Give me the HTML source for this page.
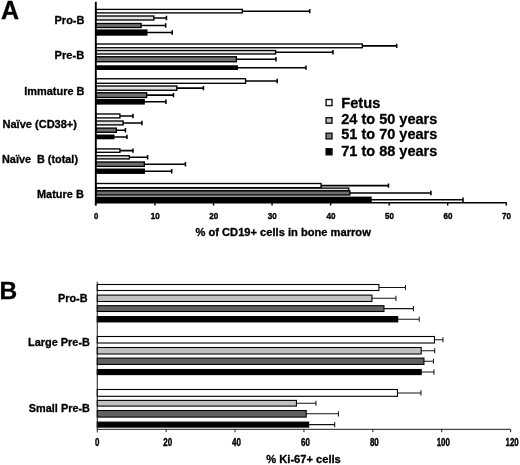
<!DOCTYPE html>
<html lang="en"><head><meta charset="utf-8"><title>Figure</title>
<style>
html,body{margin:0;padding:0;background:#fff;}
body{width:520px;height:465px;overflow:hidden;}
svg{display:block;}
text{font-family:"Liberation Sans", Arial, Helvetica, sans-serif;white-space:pre;}
</style></head>
<body>
<svg width="520" height="465" viewBox="0 0 520 465">
<rect width="520" height="465" fill="#fff"/>
<g stroke="#000" stroke-width="1.35" fill="none" stroke-linecap="butt">
<path d="M242 11.15H310 M309.70 8.95V13.35" stroke-width="1.55"/>
<rect x="95.8" y="9.40" width="146.52" height="3.50" fill="#ffffff"/>
<path d="M153.5 18.00H166.75 M166.45 15.80V20.20" stroke-width="1.55"/>
<rect x="95.8" y="16.00" width="58.03" height="4.00" fill="#e2e2e2"/>
<path d="M140.75 25.50H166 M165.70 23.30V27.70" stroke-width="1.55"/>
<rect x="95.8" y="23.50" width="45.28" height="4.00" fill="#707070"/>
<path d="M146.5 32.55H172.5 M172.20 30.35V34.75" stroke-width="1.55"/>
<rect x="95.8" y="30.07" width="51.03" height="4.95" fill="#000000"/>
<path d="M362 45.88H397 M396.70 43.67V48.08" stroke-width="1.55"/>
<rect x="95.8" y="44.00" width="266.52" height="3.75" fill="#ffffff"/>
<path d="M275.25 52.25H333.25 M332.95 50.05V54.45" stroke-width="1.55"/>
<rect x="95.8" y="50.50" width="179.77" height="3.50" fill="#e2e2e2"/>
<path d="M236 59.25H276.25 M275.95 57.05V61.45" stroke-width="1.55"/>
<rect x="95.8" y="56.75" width="140.52" height="5.00" fill="#707070"/>
<path d="M237 67.65H306.25 M305.95 65.45V69.85" stroke-width="1.55"/>
<rect x="95.8" y="65.97" width="141.52" height="3.35" fill="#000000"/>
<path d="M245.25 81.03H277.5 M277.20 78.83V83.23" stroke-width="1.55"/>
<rect x="95.8" y="78.75" width="149.77" height="4.55" fill="#ffffff"/>
<path d="M176.5 88.12H203.75 M203.45 85.92V90.33" stroke-width="1.55"/>
<rect x="95.8" y="86.00" width="81.03" height="4.25" fill="#e2e2e2"/>
<path d="M146.3 95.12H173.75 M173.45 92.92V97.33" stroke-width="1.55"/>
<rect x="95.8" y="92.75" width="50.83" height="4.75" fill="#707070"/>
<path d="M143.8 101.80H166.25 M165.95 99.60V104.00" stroke-width="1.55"/>
<rect x="95.8" y="99.67" width="48.33" height="4.25" fill="#000000"/>
<path d="M119.6 115.95H133.25 M132.95 113.75V118.15" stroke-width="1.55"/>
<rect x="95.8" y="114.00" width="24.12" height="3.90" fill="#ffffff"/>
<path d="M122.75 122.95H142.25 M141.95 120.75V125.15" stroke-width="1.55"/>
<rect x="95.8" y="121.00" width="27.28" height="3.90" fill="#e2e2e2"/>
<path d="M116 130.20H125.75 M125.45 128.00V132.40" stroke-width="1.55"/>
<rect x="95.8" y="128.10" width="20.53" height="4.20" fill="#707070"/>
<path d="M113.5 136.90H127.25 M126.95 134.70V139.10" stroke-width="1.55"/>
<rect x="95.8" y="135.18" width="18.03" height="3.45" fill="#000000"/>
<path d="M119.6 150.60H133.25 M132.95 148.40V152.80" stroke-width="1.55"/>
<rect x="95.8" y="148.90" width="24.12" height="3.40" fill="#ffffff"/>
<path d="M129 157.32H147.9 M147.60 155.12V159.52" stroke-width="1.55"/>
<rect x="95.8" y="155.75" width="33.53" height="3.15" fill="#e2e2e2"/>
<path d="M144 164.20H185.75 M185.45 162.00V166.40" stroke-width="1.55"/>
<rect x="95.8" y="162.00" width="48.53" height="4.40" fill="#707070"/>
<path d="M144 171.20H172 M171.70 169.00V173.40" stroke-width="1.55"/>
<rect x="95.8" y="169.18" width="48.53" height="4.05" fill="#000000"/>
<path d="M320.7 185.60H388.8 M388.50 183.40V187.80" stroke-width="1.55"/>
<rect x="95.8" y="183.50" width="225.22" height="4.20" fill="#ffffff"/>
<rect x="95.8" y="188.10" width="253.02" height="2.80" fill="#e2e2e2"/>
<path d="M349.5 192.95H431.2 M430.90 190.75V195.15" stroke-width="1.55"/>
<rect x="95.8" y="190.90" width="254.02" height="4.10" fill="#707070"/>
<path d="M370.7 199.80H463.3 M463.00 197.60V202.00" stroke-width="1.55"/>
<rect x="95.8" y="197.28" width="275.22" height="5.05" fill="#000000"/>
</g>
<path d="M95.8 1.8V205.6" stroke="#000" stroke-width="1.9" fill="none"/>
<path d="M94.89999999999999 202.7H506.9 M154.95 202.7V205.6 M213.50 202.7V205.6 M272.05 202.7V205.6 M330.60 202.7V205.6 M389.15 202.7V205.6 M447.70 202.7V205.6 M506.25 202.7V205.6" stroke="#000" stroke-width="1.4" fill="none"/>
<g stroke="#000" stroke-width="1.1" fill="none">
<path d="M378.5 287.50H405.75 M405.45 284.90V290.10" stroke="#151515" stroke-width="1.05"/>
<rect x="97.25" y="284.50" width="281.70" height="6.00" fill="#ffffff"/>
<path d="M371.5 298.30H396.25 M395.95 295.70V300.90" stroke="#151515" stroke-width="1.05"/>
<rect x="97.25" y="295.10" width="274.70" height="6.40" fill="#c0c0c0"/>
<path d="M383.5 308.60H413.75 M413.45 306.00V311.20" stroke="#151515" stroke-width="1.05"/>
<rect x="97.25" y="305.70" width="286.70" height="5.80" fill="#626262"/>
<path d="M397.25 319.25H419.5 M419.20 316.65V321.85" stroke="#151515" stroke-width="1.05"/>
<rect x="97.25" y="316.60" width="300.45" height="5.30" fill="#000000"/>
<path d="M434 339.75H443.25 M442.95 337.15V342.35" stroke="#151515" stroke-width="1.05"/>
<rect x="97.25" y="336.50" width="337.20" height="6.50" fill="#ffffff"/>
<path d="M420.75 350.75H435 M434.70 348.15V353.35" stroke="#151515" stroke-width="1.05"/>
<rect x="97.25" y="347.50" width="323.95" height="6.50" fill="#c0c0c0"/>
<path d="M423.5 361.25H433.75 M433.45 358.65V363.85" stroke="#151515" stroke-width="1.05"/>
<rect x="97.25" y="358.10" width="326.70" height="6.30" fill="#626262"/>
<path d="M420.75 372.05H434.25 M433.95 369.45V374.65" stroke="#151515" stroke-width="1.05"/>
<rect x="97.25" y="369.50" width="323.95" height="5.10" fill="#000000"/>
<path d="M397 392.90H421.25 M420.95 390.30V395.50" stroke="#151515" stroke-width="1.05"/>
<rect x="97.25" y="389.50" width="300.20" height="6.80" fill="#ffffff"/>
<path d="M296 403.25H316.25 M315.95 400.65V405.85" stroke="#151515" stroke-width="1.05"/>
<rect x="97.25" y="400.40" width="199.20" height="5.70" fill="#c0c0c0"/>
<path d="M305.75 413.80H338.75 M338.45 411.20V416.40" stroke="#151515" stroke-width="1.05"/>
<rect x="97.25" y="410.50" width="208.95" height="6.60" fill="#626262"/>
<path d="M308.25 424.60H335 M334.70 422.00V427.20" stroke="#151515" stroke-width="1.05"/>
<rect x="97.25" y="422.10" width="211.45" height="5.00" fill="#000000"/>
</g>
<path d="M97.25 281.8V432.4 M97.25 429.3H510.6 M166.15 429.3V432.2 M235.05 429.3V432.2 M303.95 429.3V432.2 M372.85 429.3V432.2 M441.75 429.3V432.2 M510.65 429.3V432.2" stroke="#1a1a1a" stroke-width="1" fill="none"/>
<g font-family='"Liberation Sans", Arial, Helvetica, sans-serif' fill="#000" stroke="#000" stroke-width="0.3" stroke-linejoin="round">
<text x="0.9" y="19" font-size="25" font-weight="bold" text-anchor="start">A</text>
<text x="-0.6" y="298.6" font-size="24.5" font-weight="bold" text-anchor="start">B</text>
<text x="54.5" y="24.3" font-size="11" font-weight="bold" text-anchor="start" textLength="30" lengthAdjust="spacingAndGlyphs">Pro-B</text>
<text x="54.5" y="59.3" font-size="11" font-weight="bold" text-anchor="start" textLength="29.7" lengthAdjust="spacingAndGlyphs">Pre-B</text>
<text x="24.2" y="94.5" font-size="11" font-weight="bold" text-anchor="start" textLength="60.3" lengthAdjust="spacingAndGlyphs">Immature B</text>
<text x="2.5" y="127.5" font-size="11" font-weight="bold" text-anchor="start" textLength="74.5" lengthAdjust="spacingAndGlyphs">Naïve (CD38+)</text>
<text x="2" y="162.5" font-size="11" font-weight="bold" text-anchor="start" textLength="76" lengthAdjust="spacingAndGlyphs">Naïve  B (total)</text>
<text x="37" y="198" font-size="11" font-weight="bold" text-anchor="start" textLength="46.8" lengthAdjust="spacingAndGlyphs">Mature B</text>
<text x="96.20" y="219.3" font-size="9.5" font-weight="bold" text-anchor="middle" textLength="4.3" lengthAdjust="spacingAndGlyphs" stroke-width="0.4">0</text>
<text x="155.25" y="219.3" font-size="9.5" font-weight="bold" text-anchor="middle" textLength="9.0" lengthAdjust="spacingAndGlyphs" stroke-width="0.4">10</text>
<text x="213.80" y="219.3" font-size="9.5" font-weight="bold" text-anchor="middle" textLength="9.0" lengthAdjust="spacingAndGlyphs" stroke-width="0.4">20</text>
<text x="272.35" y="219.3" font-size="9.5" font-weight="bold" text-anchor="middle" textLength="9.0" lengthAdjust="spacingAndGlyphs" stroke-width="0.4">30</text>
<text x="330.90" y="219.3" font-size="9.5" font-weight="bold" text-anchor="middle" textLength="9.0" lengthAdjust="spacingAndGlyphs" stroke-width="0.4">40</text>
<text x="389.45" y="219.3" font-size="9.5" font-weight="bold" text-anchor="middle" textLength="9.0" lengthAdjust="spacingAndGlyphs" stroke-width="0.4">50</text>
<text x="448.00" y="219.3" font-size="9.5" font-weight="bold" text-anchor="middle" textLength="9.0" lengthAdjust="spacingAndGlyphs" stroke-width="0.4">60</text>
<text x="506.55" y="219.3" font-size="9.5" font-weight="bold" text-anchor="middle" textLength="9.0" lengthAdjust="spacingAndGlyphs" stroke-width="0.4">70</text>
<text x="195.5" y="235.5" font-size="10.2" font-weight="bold" text-anchor="start" textLength="175.3" lengthAdjust="spacingAndGlyphs">% of CD19+ cells in bone marrow</text>
<text x="341.3" y="108.3" font-size="14.3" font-weight="bold" text-anchor="start" textLength="39" lengthAdjust="spacingAndGlyphs">Fetus</text>
<text x="341.3" y="123.8" font-size="14.3" font-weight="bold" text-anchor="start" textLength="96" lengthAdjust="spacingAndGlyphs">24 to 50 years</text>
<text x="341.3" y="139.3" font-size="14.3" font-weight="bold" text-anchor="start" textLength="96" lengthAdjust="spacingAndGlyphs">51 to 70 years</text>
<text x="341.3" y="155.5" font-size="14.3" font-weight="bold" text-anchor="start" textLength="96" lengthAdjust="spacingAndGlyphs">71 to 88 years</text>
<text x="58" y="301.8" font-size="11" font-weight="bold" text-anchor="start" textLength="29.5" lengthAdjust="spacingAndGlyphs">Pro-B</text>
<text x="28" y="346.3" font-size="11" font-weight="bold" text-anchor="start" textLength="62" lengthAdjust="spacingAndGlyphs">Large Pre-B</text>
<text x="28.8" y="411.8" font-size="11" font-weight="bold" text-anchor="start" textLength="61.2" lengthAdjust="spacingAndGlyphs">Small Pre-B</text>
<text x="97.25" y="446.1" font-size="10" font-weight="bold" text-anchor="middle" textLength="4.4" lengthAdjust="spacingAndGlyphs" stroke-width="0.4">0</text>
<text x="167.65" y="446.1" font-size="10" font-weight="bold" text-anchor="middle" textLength="8.9" lengthAdjust="spacingAndGlyphs" stroke-width="0.4">20</text>
<text x="236.55" y="446.1" font-size="10" font-weight="bold" text-anchor="middle" textLength="8.9" lengthAdjust="spacingAndGlyphs" stroke-width="0.4">40</text>
<text x="305.45" y="446.1" font-size="10" font-weight="bold" text-anchor="middle" textLength="8.9" lengthAdjust="spacingAndGlyphs" stroke-width="0.4">60</text>
<text x="374.35" y="446.1" font-size="10" font-weight="bold" text-anchor="middle" textLength="8.9" lengthAdjust="spacingAndGlyphs" stroke-width="0.4">80</text>
<text x="443.25" y="446.1" font-size="10" font-weight="bold" text-anchor="middle" textLength="13.2" lengthAdjust="spacingAndGlyphs" stroke-width="0.4">100</text>
<text x="512.15" y="446.1" font-size="10" font-weight="bold" text-anchor="middle" textLength="13.2" lengthAdjust="spacingAndGlyphs" stroke-width="0.4">120</text>
<text x="266.3" y="463" font-size="10.5" font-weight="bold" text-anchor="start" textLength="74.5" lengthAdjust="spacingAndGlyphs">% Ki-67+ cells</text>
</g>
<rect x="326.09999999999997" y="99.50" width="5.90" height="6.10" fill="#fff" stroke="#111" stroke-width="1.4"/>
<rect x="326.09999999999997" y="117.70" width="5.90" height="5.50" fill="#c0c0c0" stroke="#111" stroke-width="1.4"/>
<rect x="326.09999999999997" y="133.20" width="5.90" height="5.70" fill="#808080" stroke="#111" stroke-width="1.4"/>
<rect x="326.09999999999997" y="148.70" width="5.90" height="6.10" fill="#000" stroke="#111" stroke-width="1.4"/>
</svg>
</body></html>
